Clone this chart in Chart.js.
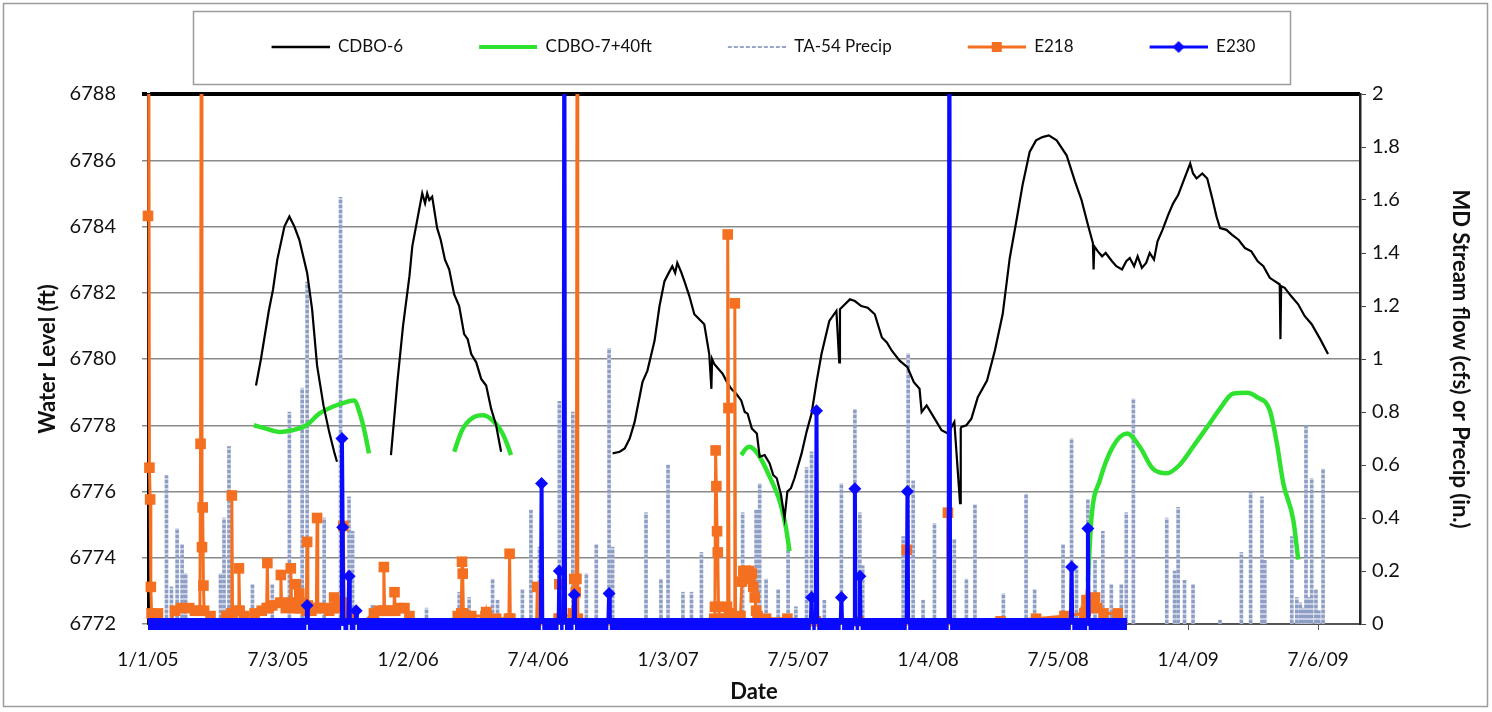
<!DOCTYPE html>
<html>
<head>
<meta charset="utf-8">
<script src="https://cdn.jsdelivr.net/npm/chart.js@4.4.1/dist/chart.umd.min.js"></script>
<style>
  html,body{margin:0;padding:0;background:#fff;}
  #wrap{position:relative;width:1492px;height:712px;}
</style>
</head>
<body>
<div id="wrap"><canvas id="chart" width="1492" height="712"></canvas></div>
<script>
// x values are days since 1/1/05
var xTickDays = [0, 183, 366, 549, 732, 915, 1098, 1281, 1464, 1647];
var xTickLabels = ['1/1/05', '7/3/05', '1/2/06', '7/4/06', '1/3/07', '7/5/07', '1/4/08', '7/5/08', '1/4/09', '7/6/09'];

// CDBO-6 water level (ft), null = gap in record
var cdbo6Day = [152,159,170,176,182,192,199,206,213,224,231,238,247,255,262,266, 300,
  342,351,359,368,372,379,386,390,393,396,400,407,412,418,424,431,438,445,450,455,462,469,476,483,490,497, 560,
  654,664,671,678,685,696,703,713,720,727,733,738,742,745,750,755,762,769,776,783,790,793,794,797,803,809,815,821,828,835,840,844,850,857,861,868,875,880,885,891,896,900,905,910,920,927,934,941,948,959,969,
  973,974,981,988,995,1004,1013,1023,1033,1040,1047,1058,1069,1078,1086,1089,1096,1103,1110,1117,1126,1135,1143,1144,1145,1152,1159,1168,1181,1192,1203,1213,
  1223,1231,1241,1250,1259,1268,1279,1293,1305,1314,1323,1330,1331,1332,1337,1343,1348,1357,1363,1371,1377,1382,1388,1393,1399,1405,1410,1416,1421,1428,1436,1443,1450,1458,1467,1471,1476,1484,1491,1498,1504,1509,
  1518,1526,1535,1544,1553,1562,1570,1579,1586,1593,1594,1595,1600,1609,1619,1628,1638,1650,1661];
var cdbo6Level = [6779.2,6780.0,6781.45,6782.1,6783.0,6784.0,6784.3,6784.0,6783.6,6782.6,6781.5,6779.8,6778.6,6777.8,6777.2,6776.9, null,
  6777.1,6779.3,6781.0,6782.5,6783.4,6784.2,6785.0,6784.7,6785.0,6784.8,6784.9,6783.95,6783.6,6783.0,6782.7,6781.95,6781.6,6780.75,6780.6,6780.15,6779.9,6779.4,6779.2,6778.5,6778.0,6777.2, null,
  6777.15,6777.2,6777.3,6777.6,6778.1,6779.3,6779.65,6780.55,6781.6,6782.35,6782.6,6782.8,6782.6,6782.9,6782.65,6782.35,6781.9,6781.35,6781.2,6781.05,6780.15,6779.1,6780.0,6779.85,6779.7,6779.55,6779.3,6779.1,6778.95,6778.75,6778.4,6778.35,6777.9,6777.75,6777.05,6777.1,6776.85,6776.5,6776.4,6775.9,6775.2,6776.0,6776.1,6776.4,6777.15,6777.8,6778.35,6779.3,6780.15,6781.15,6781.45,
  6779.9,6781.5,6781.65,6781.8,6781.75,6781.6,6781.55,6781.35,6780.65,6780.5,6780.25,6779.95,6779.75,6779.3,6779.1,6778.4,6778.6,6778.35,6778.1,6777.85,6777.75,6778.1,6775.65,6777.9,6777.95,6778.0,6778.2,6778.85,6779.35,6780.25,6781.35,6783.05,
  6784.25,6785.25,6786.25,6786.6,6786.7,6786.75,6786.6,6786.15,6785.35,6784.8,6784.05,6783.5,6782.7,6783.4,6783.25,6783.1,6783.2,6782.95,6782.8,6782.7,6782.95,6783.05,6782.8,6783.1,6782.75,6782.9,6783.2,6783.0,6783.55,6783.9,6784.35,6784.7,6784.95,6785.4,6785.9,6785.6,6785.45,6785.6,6785.45,6784.85,6784.3,6783.95,
  6783.9,6783.75,6783.6,6783.35,6783.25,6782.95,6782.8,6782.45,6782.35,6782.25,6780.6,6782.2,6782.15,6781.9,6781.65,6781.3,6781.05,6780.6,6780.15];

// CDBO-7 + 40 ft
var cdbo7Day = [149,166,185,203,223,241,259,279,290,299,306,311, 370,
  431,441,448,459,471,485,499,506,511, 700,
  835,842,847,854,861,875,890,898,903, 1100,
  1323,1328,1340,1358,1378,1396,1414,1434,1452,1471,1491,1509,1527,1547,1561,1579,1589,1598,1612,1619];
var cdbo7Level = [6778.0,6777.9,6777.8,6777.85,6778.0,6778.35,6778.55,6778.7,6778.75,6778.3,6777.7,6777.15, null,
  6777.2,6777.8,6778.05,6778.25,6778.3,6778.15,6777.75,6777.4,6777.1, null,
  6777.1,6777.3,6777.35,6777.25,6777.05,6776.45,6775.65,6774.9,6774.2, null,
  6773.3,6775.2,6776.35,6777.35,6777.75,6777.35,6776.7,6776.55,6776.8,6777.35,6777.95,6778.5,6778.95,6778.98,6778.85,6778.45,6777.45,6776.25,6775.15,6773.95];

// TA-54 daily precip (in.), rain days only
var precipDay = [26,33,41,48,53,102,107,114,147,175,199,217,224,248,271,283,288,316,392,438,452,485,492,527,539,551,579,598,617,631,649,654,
  701,722,732,753,765,779,837,856,861,870,887,901,912,927,934,952,976,995,1002,1006,1063,1070,1077,1091,1107,1135,1152,1164,1204,1236,1248,
  1288,1300,1307,1323,1333,1344,1356,1370,1377,1387,1434,1445,1450,1459,1471,1509,1539,1552,1568,1572,1610,1617,1622,1626,1630,1634,1638,1644,1648,1654];
var precipIn = [0.56,0.14,0.36,0.30,0.19,0.19,0.40,0.67,0.15,0.15,0.80,0.89,1.29,0.40,1.61,0.48,0.35,0.07,0.06,0.12,0.10,0.17,0.09,0.13,0.43,0.29,0.84,0.80,0.19,0.30,1.04,0.29,
  0.42,0.17,0.60,0.12,0.12,0.27,0.42,0.43,0.53,0.17,0.13,0.29,0.065,0.59,0.65,0.09,0.53,0.81,0.42,0.22,0.33,1.02,0.54,0.09,0.38,0.32,0.17,0.45,0.115,0.49,0.13,
  0.30,0.70,0.22,0.47,0.24,0.35,0.15,0.15,0.42,0.85,0.40,0.20,0.44,0.165,0.15,0.015,0.27,0.50,0.48,0.24,0.33,0.10,0.08,0.06,0.75,0.10,0.55,0.13,0.05,0.585];

// E218 stream flow (cfs): [day, cfs]
var e218 = [[0,1.54],[1,2.6],[2,0.59],[3,0.47],[4,0.14],[5,0.04],[14,0.04],[20,0],[30,0],[38,0.05],[46,0.06],[58,0.06],[66,0.05],[73,0.05],
  [74,0.68],[75,2.6],[76,0.29],[77,0.44],[78,0.145],[79,0.05],[88,0.03],[100,0],[110,0.03],[117,0.04],[118,0.485],[119,0.04],[127,0.05],[128,0.21],
  [129,0.05],[135,0.03],[150,0.04],[160,0.05],[167,0.06],[168,0.23],[169,0.06],[175,0.07],[186,0.08],[187,0.185],[188,0.08],[194,0.06],[200,0.08],
  [201,0.21],[202,0.08],[207,0.06],[208,0.15],[209,0.07],[212,0.06],[213,0.115],[214,0.06],[218,0.08],[223,0.05],[224,0.31],[225,0.07],[230,0.05],
  [237,0.06],[238,0.40],[239,0.06],[248,0.06],[255,0.05],[261,0.06],[262,0.10],[263,0.06],[270,0.07],[274,0.08],[275,0.37],[276,0.08],[283,0.04],
  [300,0],[318,0.04],[325,0.05],[331,0.05],[332,0.215],[333,0.05],[340,0.05],[346,0.05],[347,0.12],[348,0.05],[355,0.06],[361,0.06],[368,0.03],
  [380,0],[420,0],[436,0.03],[441,0.04],[442,0.235],[443,0.19],[444,0.04],[455,0.03],[475,0.03],[476,0.045],[477,0.03],[490,0.02],[508,0.02],
  [509,0.265],[510,0.02],[530,0],[547,0],[548,0.14],[549,0],[575,0],[578,0.02],[579,0.15],[580,0.02],[598,0.04],[600,0.17],[602,0.12],[603,0.17],
  [604,2.6],[605,0.02],[620,0],[790,0],[797,0.02],[798,0.065],[799,0.655],[800,0.52],[801,0.35],[802,0.27],[803,0.065],[805,0.02],[814,0.02],
  [815,0.065],[816,1.47],[817,0.815],[818,0.04],[825,0.02],[826,1.21],[827,0.02],[834,0.03],[836,0.16],[838,0.2],[840,0.19],[842,0.2],[844,0.18],
  [846,0.2],[848,0.17],[850,0.19],[852,0.14],[854,0.1],[856,0.05],[858,0.03],[870,0.02],[900,0.02],[940,0.01],[1000,0.01],[1067,0],[1068,0.28],
  [1069,0],[1125,0],[1126,0.42],[1127,0],[1200,0.01],[1250,0.02],[1290,0.03],[1318,0.04],[1320,0.05],[1321,0.09],[1323,0.06],[1330,0.07],
  [1333,0.10],[1336,0.06],[1345,0.04],[1365,0.04],[1378,0]];

// E230 stream flow (cfs): [day, cfs]
var e230 = [[0,0],[223,0],[224,0.07],[225,0],[272,0],[273,0.70],[274,0.365],[275,0],[282,0],[283,0.18],[284,0],[292,0],[293,0.05],[294,0],
  [553,0],[554,0.53],[555,0],[578,0],[579,0.20],[580,0],[585,0],[586,2.6],[587,0],[599,0],[600,0.11],[601,0],[648,0],[649,0.115],[650,0],
  [933,0],[934,0.10],[935,0],[940,0],[941,0.805],[942,0],[975,0],[976,0.10],[977,0],[994,0],[995,0.51],[996,0],[1001,0],[1002,0.18],[1003,0],
  [1068,0],[1069,0.50],[1070,0],[1127,0],[1128,2.6],[1129,0],[1299,0],[1300,0.215],[1301,0],[1322,0],[1323,0.36],[1324,0],[1378,0]];

var BLACK = '#000000', GREEN = '#2fe22f', PRECIP = '#97a6c9', ORANGE = '#f47020', BLUE = '#0a0aff';

function pts(days, vals) {
  return days.map(function(d, i) { return {x: d, y: vals[i]}; });
}
function pairs(list) {
  return list.map(function(p) { return {x: p[0], y: p[1]}; });
}

var canvas = document.getElementById('chart');
var ctx = canvas.getContext('2d');

// dashed look for the precip spikes
function dashPattern() {
  var c = document.createElement('canvas');
  c.width = 4; c.height = 5;
  var g = c.getContext('2d');
  g.fillStyle = '#8e9dc3'; g.fillRect(0, 0, 4, 3);
  g.fillStyle = '#c6cfe4'; g.fillRect(0, 3, 4, 2);
  return ctx.createPattern(c, 'repeat');
}

// legend samples: line + marker, with blank room on the left
var LEG_PAD = 48, LEG_LEN = 58;
function legendImage(kind) {
  var c = document.createElement('canvas');
  c.width = LEG_PAD + LEG_LEN; c.height = 16;
  var g = c.getContext('2d');
  var x0 = LEG_PAD, x1 = LEG_PAD + LEG_LEN, y = 8, mid = LEG_PAD + LEG_LEN / 2;
  g.beginPath(); g.moveTo(x0, y); g.lineTo(x1, y);
  if (kind == 'black') { g.strokeStyle = BLACK; g.lineWidth = 2.5; }
  if (kind == 'green') { g.strokeStyle = GREEN; g.lineWidth = 4; }
  if (kind == 'precip') { g.strokeStyle = PRECIP; g.lineWidth = 2; g.setLineDash([4, 2]); }
  if (kind == 'orange') { g.strokeStyle = ORANGE; g.lineWidth = 3; }
  if (kind == 'blue') { g.strokeStyle = BLUE; g.lineWidth = 3; }
  g.stroke();
  if (kind == 'orange') { g.fillStyle = ORANGE; g.fillRect(mid - 5, y - 5, 10, 10); }
  if (kind == 'blue') {
    g.fillStyle = BLUE; g.beginPath();
    g.moveTo(mid, y - 6); g.lineTo(mid + 6, y); g.lineTo(mid, y + 6); g.lineTo(mid - 6, y); g.closePath(); g.fill();
  }
  return c;
}
var legendImages = ['black', 'green', 'precip', 'orange', 'blue'].map(legendImage);

var frames = {
  id: 'frames',
  afterDraw: function(chart) {
    var c = chart.ctx;
    c.save();
    c.strokeStyle = '#9c9c9c';
    c.lineWidth = 1.5;
    c.strokeRect(3.5, 3.5, 1484, 703);
    c.strokeRect(193.5, 11.5, 1097, 73);
    c.restore();
  }
};

Chart.defaults.font.family = 'Lato, "Open Sans", sans-serif';
Chart.defaults.color = '#111';

var chart = new Chart(ctx, {
  type: 'line',
  data: {
    datasets: [
      {
        label: 'CDBO-6', data: pts(cdbo6Day, cdbo6Level), yAxisID: 'yL', order: 2,
        borderColor: BLACK, borderWidth: 2.2, pointRadius: 0, spanGaps: false, tension: 0
      },
      {
        label: 'CDBO-7+40ft', data: pts(cdbo7Day, cdbo7Level), yAxisID: 'yL', order: 3,
        borderColor: GREEN, borderWidth: 4.5, pointRadius: 0, spanGaps: false, cubicInterpolationMode: 'monotone'
      },
      {
        type: 'bar', label: 'TA-54 Precip', data: pts(precipDay, precipIn), yAxisID: 'yR', order: 4,
        backgroundColor: dashPattern(), barThickness: 3, grouped: false
      },
      {
        label: 'E218', data: pairs(e218), yAxisID: 'yR', order: 1,
        borderColor: ORANGE, borderWidth: 3, tension: 0,
        pointStyle: 'rect', pointBackgroundColor: ORANGE, pointBorderColor: ORANGE, pointBorderWidth: 0,
        pointRadius: function(c) { return c.raw && c.raw.y > 0 ? 7.5 : 0; },
        clip: {left: 8, top: 0, right: 8, bottom: 8}
      },
      {
        label: 'E230', data: pairs(e230), yAxisID: 'yR', order: 0,
        borderColor: BLUE, borderWidth: 4, tension: 0, borderCapStyle: 'butt',
        segment: {
          borderWidth: function(c) { return (c.p0.parsed.y === 0 && c.p1.parsed.y === 0) ? 12 : 4; }
        },
        pointStyle: 'rectRot', pointBackgroundColor: BLUE, pointBorderColor: BLUE, pointBorderWidth: 0,
        pointRadius: function(c) { return c.raw && c.raw.y > 0 ? 6.5 : 0; },
        clip: {left: 10, top: 0, right: 10, bottom: 10}
      }
    ]
  },
  options: {
    responsive: false,
    animation: false,
    events: [],
    layout: {padding: {top: 10.5, right: 13, left: 0, bottom: 0}},
    scales: {
      x: {
        type: 'linear', min: 0, max: 1706, offset: false,
        afterBuildTicks: function(axis) { axis.ticks = xTickDays.map(function(v) { return {value: v}; }); },
        afterFit: function(s) { s.height = 88; },
        grid: {drawOnChartArea: false, drawTicks: true, tickLength: 6, color: '#555', offset: false},
        border: {color: '#555', width: 2},
        ticks: {
          autoSkip: false, maxRotation: 0, padding: 18, color: '#111', font: {size: 19},
          callback: function(v, i) { return xTickLabels[i]; }
        },
        title: {display: true, text: 'Date', color: '#111', font: {size: 22, weight: 'bold'}, padding: {top: 2, bottom: 7}}
      },
      yL: {
        position: 'left', min: 6772, max: 6788,
        afterFit: function(s) { s.width = 148; },
        grid: {
          color: function(c) { return c.tick && c.tick.value === 6788 ? '#000' : '#8a8a8a'; },
          lineWidth: function(c) { return c.tick && c.tick.value === 6788 ? 4 : 1.5; },
          tickLength: 6
        },
        border: {color: '#000', width: 3},
        ticks: {
          stepSize: 2, padding: 26, color: '#111', font: {size: 20},
          callback: function(v) { return String(v); }
        },
        title: {display: true, text: 'Water Level (ft)', color: '#111', font: {size: 22, weight: 'bold'}, padding: {top: 35, bottom: 0}}
      },
      yR: {
        position: 'right', min: 0, max: 2,
        afterFit: function(s) { s.width = 119; },
        grid: {drawOnChartArea: false, tickLength: 6, color: '#444'},
        border: {color: '#222', width: 2.5},
        ticks: {
          stepSize: 0.2, padding: 6, color: '#111', font: {size: 20},
          callback: function(v) { return String(Number(v.toFixed(1))); }
        },
        title: {display: true, text: 'MD Stream flow (cfs) or Precip (in.)', color: '#111', font: {size: 22, weight: 'bold'}, padding: {top: 6, bottom: 0}}
      }
    },
    plugins: {
      tooltip: {enabled: false},
      title: {display: true, text: '', position: 'top', weight: 500, padding: 0, font: {size: 28.5, lineHeight: 1}},
      legend: {
        position: 'top',
        labels: {
          usePointStyle: true, pointStyleWidth: LEG_PAD + LEG_LEN, padding: 28, color: '#111', font: {size: 17},
          generateLabels: function(chart) {
            return chart.data.datasets.map(function(ds, i) {
              return {
                text: ds.label, pointStyle: legendImages[i], datasetIndex: i, hidden: false,
                lineWidth: 0, strokeStyle: 'rgba(0,0,0,0)', fillStyle: 'rgba(0,0,0,0)', fontColor: '#111'
              };
            });
          }
        }
      }
    }
  },
  plugins: [frames]
});
</script>
</body>
</html>
